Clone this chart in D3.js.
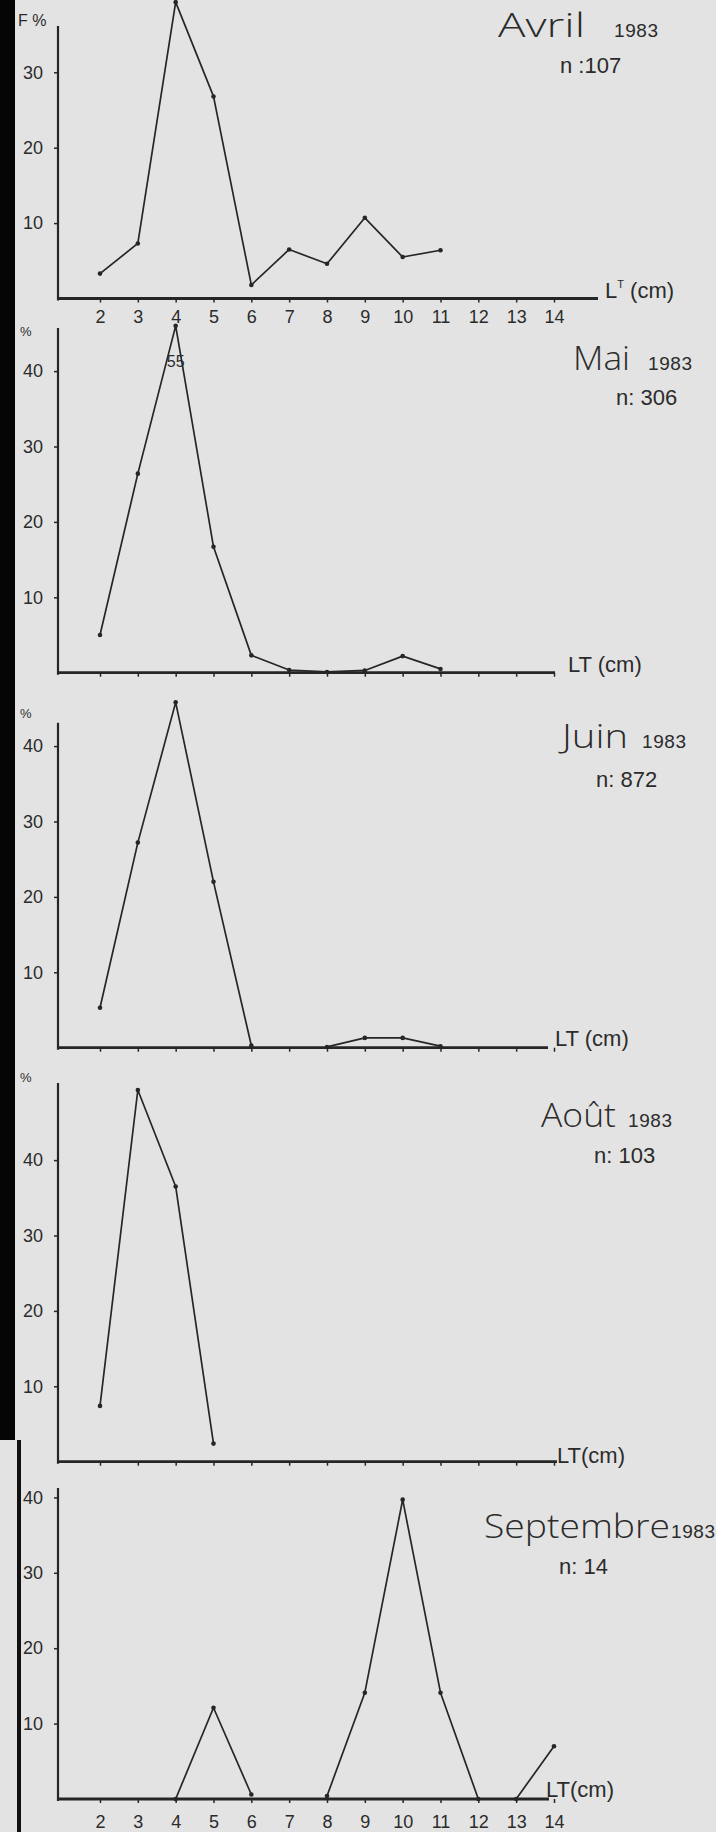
<!DOCTYPE html>
<html>
<head>
<meta charset="utf-8">
<script src="https://cdn.jsdelivr.net/npm/d3@7"></script>
<style>
  body { margin: 0; background: #e3e3e3; }
  svg { display: block; }
  text { fill: #2b2b2b; font-family: "Liberation Sans", Arial, sans-serif; }
  .month { font-family: "Open Sans", "Noto Sans", sans-serif; font-weight: 300; }
</style>
</head>
<body>
<script>
const w = 716;
const h = 1832;

// ----- DATA -----
const lengths = [2, 3, 4, 5, 6, 7, 8, 9, 10, 11, 12, 13, 14];
const yTicks1 = [10, 20, 30];
const yTicks = [10, 20, 30, 40];

const avrilLT = [2, 3, 4, 5, 6, 7, 8, 9, 10, 11];
const avrilF = [3.3, 7.3, 39.3, 26.8, 1.8, 6.5, 4.6, 10.7, 5.5, 6.4];

const maiLT = [2, 3, 4, 5, 6, 7, 8, 9, 10, 11];
const maiF = [5.0, 26.4, 55, 16.7, 2.3, 0.35, 0.1, 0.3, 2.2, 0.5];

const juinLT = [2, 3, 4, 5, 6, 7, 8, 9, 10, 11];
const juinF = [5.3, 27.2, 45.8, 22.0, 0.3, null, 0.1, 1.3, 1.3, 0.2];

const aoutLT = [2, 3, 4, 5];
const aoutF = [7.4, 49.3, 36.5, 2.4];

const septLT = [4, 5, 6, 7, 8, 9, 10, 11, 12, 13, 14];
const septF = [0, 12.1, 0.6, null, 0.4, 14.1, 39.7, 14.1, 0, 0, 7.0];

const months = ["Avril", "Mai", "Juin", "Août", "Septembre"];
const years = ["1983", "1983", "1983", "1983", "1983"];
const counts = ["n :107", "n: 306", "n: 872", "n: 103", "n: 14"];

// ----- LAYOUT -----
const x = d3.scaleLinear().domain([2, 14]).range([100, 554]);
const axisX0 = 58;
const per10 = 75.4;

const panels = [
  { lt: avrilLT, f: avrilF, ticks: yTicks1, zero: 298.5, top: 26, end: 598, labels: true, pad: 8,
    unit: "F %", unitX: 18, unitY: 26, mx: 498, mw: 87, my: 37, yx: 614, nx: 560, ny: 73,
    ltx: 605, lty: 298, sup: true },
  { lt: maiLT, f: maiF, ticks: yTicks, zero: 672.7, top: 328, end: 555, labels: false, cap: 46,
    unit: "%", unitX: 20, unitY: 336, mx: 573, mw: 57, my: 370, yx: 648, nx: 616, ny: 405,
    ltx: 568, lty: 672 },
  { lt: juinLT, f: juinF, ticks: yTicks, zero: 1047.7, top: 722.7, end: 548, labels: false,
    unit: "%", unitX: 20, unitY: 718, mx: 562, mw: 66, my: 748, yx: 642, nx: 596, ny: 787,
    ltx: 555, lty: 1046 },
  { lt: aoutLT, f: aoutF, ticks: yTicks, zero: 1461.7, top: 1083, end: 557, labels: false,
    unit: "%", unitX: 20, unitY: 1082, mx: 541, mw: 75, my: 1127, yx: 628, nx: 594, ny: 1163,
    ltx: 557, lty: 1463, tight: true },
  { lt: septLT, f: septF, ticks: yTicks, zero: 1799, top: 1488, end: 549, labels: true, pad: 12,
    unit: "", unitX: 20, unitY: 1490, mx: 484, mw: 186, my: 1538, yx: 671, nx: 559, ny: 1574,
    ltx: 546, lty: 1797, tight: true }
];

const svg = d3.select("body").append("svg")
  .attr("width", w)
  .attr("height", h);

svg.append("rect").attr("width", w).attr("height", h).attr("fill", "#e3e3e3");

const ink = "#262626";

panels.forEach((p, i) => {
  const y = d3.scaleLinear()
    .domain([0, (p.zero - p.top) / (per10 / 10)])
    .range([p.zero, p.top]);
  if (p.cap) y.domain([0, p.cap]).range([p.zero, p.zero - p.cap * per10 / 10]).clamp(true);

  const g = svg.append("g");

  // y axis
  const yAxis = d3.axisLeft(y).tickValues(p.ticks).tickSize(4).tickSizeOuter(0).tickPadding(11);
  const ga = g.append("g").attr("transform", `translate(${axisX0},0)`).call(yAxis);
  ga.select(".domain").remove();
  ga.selectAll(".tick line").attr("stroke", ink).attr("stroke-width", 1.5);
  ga.selectAll(".tick text").attr("font-size", 18).style("fill", "#2b2b2b");
  g.append("line")
    .attr("x1", axisX0).attr("x2", axisX0)
    .attr("y1", p.top).attr("y2", p.zero + 2)
    .attr("stroke", ink).attr("stroke-width", 2.2);

  // x axis
  const xAxis = d3.axisBottom(x).tickValues(lengths).tickSize(4)
    .tickPadding(p.pad || 4)
    .tickFormat(p.labels ? d3.format("d") : "");
  const gx = g.append("g").attr("transform", `translate(0,${p.zero})`).call(xAxis);
  gx.select(".domain").remove();
  gx.selectAll(".tick line").attr("stroke", ink).attr("stroke-width", 1.5);
  gx.selectAll(".tick text").attr("font-size", 18).style("fill", "#2b2b2b");
  g.append("line")
    .attr("x1", axisX0 - 1).attr("x2", p.end)
    .attr("y1", p.zero).attr("y2", p.zero)
    .attr("stroke", ink).attr("stroke-width", 2.8);

  // series
  const pts = p.lt.map((d, k) => ({ lt: d, f: p.f[k] }));
  const line = d3.line()
    .defined(d => d.f !== null)
    .x(d => x(d.lt))
    .y(d => y(d.f));
  g.append("path")
    .datum(pts)
    .attr("d", line)
    .attr("fill", "none")
    .attr("stroke", ink)
    .attr("stroke-width", 1.7)
    .attr("stroke-linejoin", "round");
  g.selectAll("circle")
    .data(pts.filter(d => d.f !== null))
    .join("circle")
    .attr("cx", d => x(d.lt))
    .attr("cy", d => y(d.f))
    .attr("r", 2.3)
    .attr("fill", ink);

  // value beyond the axis top
  if (p.cap) {
    pts.filter(d => d.f > p.cap).forEach(d => {
      g.append("text")
        .attr("x", x(d.lt))
        .attr("y", p.zero - 40.5 * per10 / 10)
        .attr("text-anchor", "middle")
        .attr("font-size", 16)
        .text(d.f);
    });
  }

  // unit label
  if (p.unit) {
    g.append("text").attr("x", p.unitX).attr("y", p.unitY)
      .attr("font-size", p.unit === "%" ? 13 : 16).text(p.unit);
  }

  // month, year, n
  g.append("text").attr("class", "month")
    .attr("x", p.mx).attr("y", p.my)
    .attr("font-size", 33)
    .attr("textLength", p.mw)
    .attr("lengthAdjust", "spacingAndGlyphs")
    .text(months[i]);
  g.append("text")
    .attr("x", p.yx).attr("y", p.my)
    .attr("font-size", 19)
    .attr("textLength", 44)
    .text(years[i]);
  g.append("text")
    .attr("x", p.nx).attr("y", p.ny)
    .attr("font-size", 22)
    .text(counts[i]);

  // LT (cm)
  const lt = g.append("text")
    .attr("x", p.ltx).attr("y", p.lty)
    .attr("font-size", 22);
  if (p.sup) {
    lt.append("tspan").text("L");
    lt.append("tspan").attr("font-size", 11).attr("dy", -10).text("T");
    lt.append("tspan").attr("dy", 10).text(" (cm)");
  } else {
    lt.text(p.tight ? "LT(cm)" : "LT (cm)");
  }
});

// scanned page edge on the left
svg.append("rect").attr("x", 0).attr("y", 0).attr("width", 15).attr("height", 1440).attr("fill", "#050505");
svg.append("rect").attr("x", 17).attr("y", 1440).attr("width", 4).attr("height", 392).attr("fill", "#111");
</script>
</body>
</html>
